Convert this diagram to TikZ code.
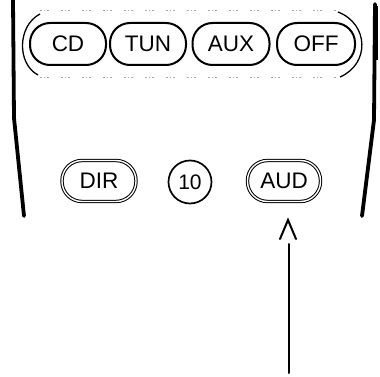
\documentclass[tikz,border=0pt]{standalone}
\usepackage{fontspec}
\setmainfont{Liberation Sans}
\begin{document}
\begin{tikzpicture}[x=1pt,y=-1pt,
  btn/.style={draw, rounded corners=20pt, minimum height=42pt, inner sep=0pt,
    line width=2pt, font=\fontsize{22.5}{26}\selectfont},
  dbtn/.style={btn, line width=1pt, double, double distance=1.4pt},
  rbtn/.style={draw, circle, minimum size=43pt, inner sep=0pt, line width=1.7pt,
    font=\fontsize{21}{24}\selectfont},
  body/.style={line width=3.8pt, line cap=round},
  frame/.style={line width=1.3pt},
  dots/.style={gray!70, line width=1pt, dash pattern=on 1.5pt off 2.5pt on 1pt off 2pt on 2pt off 12pt},
  pointer/.style={line width=2pt, line cap=round, line join=miter}]
\useasboundingbox (0,0) rectangle (380,377);
% body outline
\draw[body] (13,0) -- (14,118) -- (24,216);
\draw[body] (375,4) -- (374,120) -- (362,216);
\draw[line width=4.5pt] (376,6) -- (376,60);
% outer frame of top row
\draw[frame] (40,14) .. controls (17,26) and (17,64) .. (38,75);
\draw[frame] (338,12) .. controls (369,24) and (370,64) .. (340,77);
\draw[dots] (40,11) -- (336,11);
\draw[dots] (40,78) -- (336,78);
% top row buttons
\node[btn, minimum width=76pt] (cd)  at (68,44)  {CD};
\node[btn, minimum width=76pt] (tun) at (148,44) {TUN};
\node[btn, minimum width=77pt] (aux) at (231,44) {AUX};
\node[btn, minimum width=78pt] (off) at (316,44) {OFF};
% bottom row
\node[dbtn, minimum width=74pt, minimum height=41pt] (dir) at (99,181) {DIR};
\node[rbtn] (ten) at (190,182) {10};
\node[dbtn, minimum width=73pt, minimum height=41pt] (aud) at (284,181) {AUD};
% pointer
\coordinate (capl) at (280,239);
\coordinate (capt) at (288,220);
\coordinate (capr) at (296,239);
\draw[pointer] (capl) -- (capt) -- (capr);
\coordinate (sh1) at (289,244);
\coordinate (sh2) at (289,373);
\draw[pointer] (sh1) -- (sh2);
\end{tikzpicture}
\end{document}
